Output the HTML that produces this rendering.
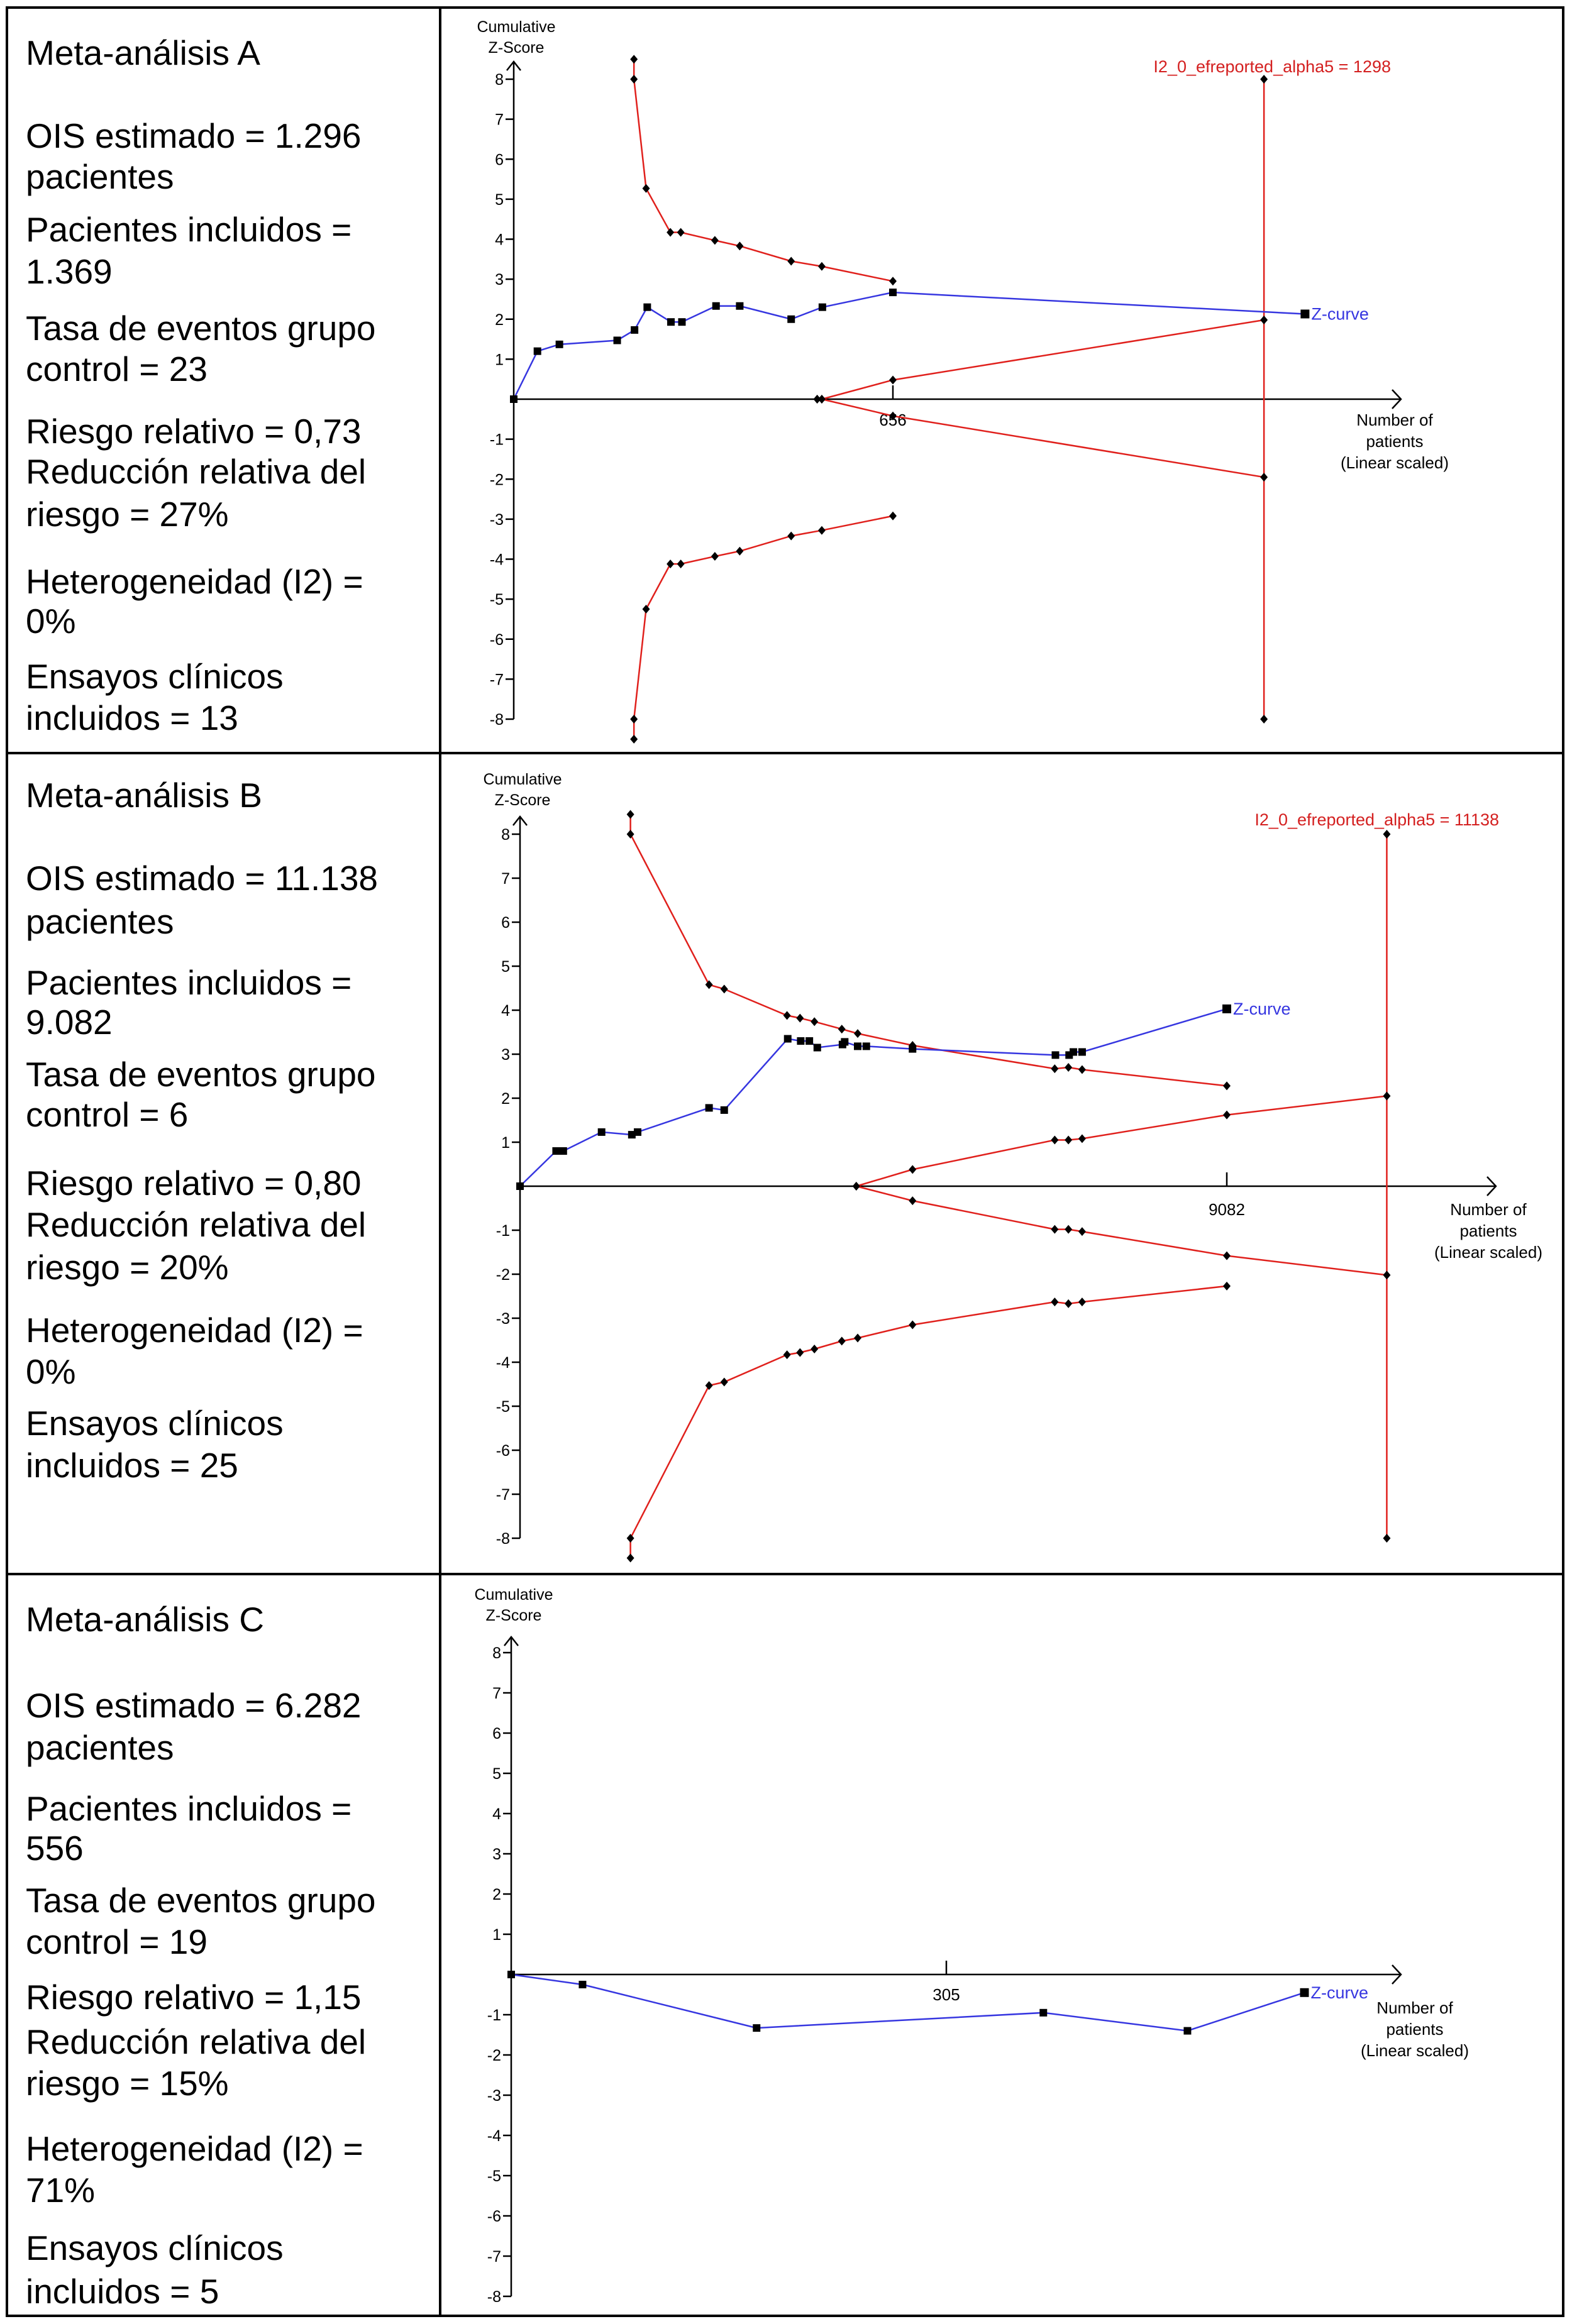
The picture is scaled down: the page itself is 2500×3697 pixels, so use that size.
<!DOCTYPE html>
<html><head><meta charset="utf-8"><style>
html,body{margin:0;padding:0;background:#fff;}
svg{display:block;}
text{font-family:"Liberation Sans",Arial,sans-serif;}
</style></head><body>
<svg id="svg" width="2500" height="3697" viewBox="0 0 2500 3697" xmlns="http://www.w3.org/2000/svg">
<g stroke="#000" stroke-width="4" fill="none">
<rect x="11" y="12" width="2475" height="3672"/>
<line x1="700" y1="12" x2="700" y2="3684"/>
<line x1="11" y1="1198" x2="2486" y2="1198"/>
<line x1="11" y1="2504" x2="2486" y2="2504"/>
</g>
<g font-size="55" fill="#000">
<text x="41" y="103">Meta-análisis A</text>
<text x="41" y="235">OIS estimado = 1.296</text>
<text x="41" y="300">pacientes</text>
<text x="41" y="384">Pacientes incluidos =</text>
<text x="41" y="451">1.369</text>
<text x="41" y="541">Tasa de eventos grupo</text>
<text x="41" y="606">control = 23</text>
<text x="41" y="705">Riesgo relativo = 0,73</text>
<text x="41" y="769">Reducción relativa del</text>
<text x="41" y="837">riesgo = 27%</text>
<text x="41" y="944">Heterogeneidad (I2) =</text>
<text x="41" y="1007">0%</text>
<text x="41" y="1095">Ensayos clínicos</text>
<text x="41" y="1161">incluidos = 13</text>
</g>
<g font-size="55" fill="#000">
<text x="41" y="1284">Meta-análisis B</text>
<text x="41" y="1416">OIS estimado = 11.138</text>
<text x="41" y="1485">pacientes</text>
<text x="41" y="1582">Pacientes incluidos =</text>
<text x="41" y="1645">9.082</text>
<text x="41" y="1728">Tasa de eventos grupo</text>
<text x="41" y="1792">control = 6</text>
<text x="41" y="1901">Riesgo relativo = 0,80</text>
<text x="41" y="1967">Reducción relativa del</text>
<text x="41" y="2035">riesgo = 20%</text>
<text x="41" y="2135">Heterogeneidad (I2) =</text>
<text x="41" y="2201">0%</text>
<text x="41" y="2283">Ensayos clínicos</text>
<text x="41" y="2350">incluidos = 25</text>
</g>
<g font-size="55" fill="#000">
<text x="41" y="2595">Meta-análisis C</text>
<text x="41" y="2732">OIS estimado = 6.282</text>
<text x="41" y="2799">pacientes</text>
<text x="41" y="2896">Pacientes incluidos =</text>
<text x="41" y="2959">556</text>
<text x="41" y="3042">Tasa de eventos grupo</text>
<text x="41" y="3108">control = 19</text>
<text x="41" y="3196">Riesgo relativo = 1,15</text>
<text x="41" y="3267">Reducción relativa del</text>
<text x="41" y="3333">riesgo = 15%</text>
<text x="41" y="3437">Heterogeneidad (I2) =</text>
<text x="41" y="3503">71%</text>
<text x="41" y="3595">Ensayos clínicos</text>
<text x="41" y="3664">incluidos = 5</text>
</g>
</svg>
<script>
// ---- Chart A data ----
const aZN = [0, 41, 79, 179, 209, 231, 272, 291, 350, 391, 480, 534, 656, 1369];
const aZV = [0, 1.2, 1.37, 1.47, 1.73, 2.3, 1.93, 1.93, 2.33, 2.33, 2.0, 2.3, 2.67, 2.13];
const aBN = [208, 208, 229, 271, 289, 348, 391, 480, 533, 656];
const aUpper = [8.5, 8, 5.27, 4.17, 4.17, 3.97, 3.83, 3.45, 3.32, 2.95];
const aLower = [-8.5, -8, -5.25, -4.12, -4.12, -3.93, -3.8, -3.42, -3.28, -2.92];
const aFN = [525, 533, 656, 1298];
const aFutUp = [0, 0, 0.48, 1.98];
const aFutLo = [0, 0, -0.42, -1.95];
const aRIS = 1298;
const aTick = 656;
// ---- Chart B data ----
const bZN = [0, 464, 556, 1048, 1437, 1511, 2429, 2624, 3440, 3607, 3718, 3820, 4144, 4172, 4339, 4450, 5044, 6880, 7056, 7111, 7223, 9082];
const bZV = [0, 0.8, 0.8, 1.23, 1.17, 1.23, 1.78, 1.73, 3.35, 3.3, 3.3, 3.15, 3.22, 3.28, 3.18, 3.18, 3.12, 2.98, 2.98, 3.05, 3.05, 4.03];
const bBN = [1419, 1419, 2429, 2624, 3431, 3598, 3783, 4135, 4339, 5044, 6871, 7047, 7223, 9082];
const bUpper = [8.45, 8, 4.58, 4.48, 3.88, 3.82, 3.74, 3.57, 3.47, 3.2, 2.67, 2.7, 2.65, 2.28];
const bLower = [-8.45, -8, -4.53, -4.45, -3.83, -3.78, -3.7, -3.52, -3.45, -3.15, -2.63, -2.67, -2.63, -2.27];
const bFN = [4321, 5044, 6871, 7047, 7223, 9082, 11138];
const bFutUp = [0, 0.38, 1.05, 1.05, 1.08, 1.62, 2.05];
const bFutLo = [0, -0.33, -0.98, -0.98, -1.03, -1.58, -2.02];
const bRIS = 11138;
const bTick = 9082;
// ---- Chart C data ----
const cZN = [0, 50, 172, 373, 474, 556];
const cZV = [0, -0.25, -1.33, -0.95, -1.4, -0.45];
const cTick = 305;
const yTicks = [8, 7, 6, 5, 4, 3, 2, 1, -1, -2, -3, -4, -5, -6, -7, -8];

const NS = 'http://www.w3.org/2000/svg';
const svg = document.getElementById('svg');
function mk(tag, attrs, parent) {
  const e = document.createElementNS(NS, tag);
  for (const k in attrs) e.setAttribute(k, attrs[k]);
  parent.appendChild(e);
  return e;
}
const RED = '#e0201c', BLUE = '#3636e0';

function drawChart(id, cfg) {
  const g = mk('g', {}, svg);
  
  
  const X = n => cfg.x0 + n * cfg.kx;
  const Y = v => cfg.y0 - v * cfg.ky;
  const ax = mk('g', {stroke: '#000', 'stroke-width': 2.5, fill: 'none'}, g);
  
  
  mk('line', {x1: cfg.x0, y1: cfg.yTop, x2: cfg.x0, y2: Y(-8)}, ax);
  mk('polyline', {points: `${cfg.x0-11},${cfg.yTop+14} ${cfg.x0},${cfg.yTop} ${cfg.x0+11},${cfg.yTop+14}`}, ax);
  mk('line', {x1: cfg.x0, y1: cfg.y0, x2: cfg.xEnd, y2: cfg.y0}, ax);
  mk('polyline', {points: `${cfg.xEnd-14},${cfg.y0-15} ${cfg.xEnd},${cfg.y0} ${cfg.xEnd-14},${cfg.y0+15}`}, ax);
  yTicks.forEach(t => {
    mk('line', {x1: cfg.x0 - 13, y1: Y(t), x2: cfg.x0, y2: Y(t)}, ax);
    const tx = mk('text', {x: cfg.x0 - 16, y: Y(t) + 9, 'text-anchor': 'end', 'font-size': 25, fill: '#000', stroke: 'none'}, g);
    tx.textContent = t;
    
    
  });
  mk('line', {x1: X(cfg.tick), y1: cfg.y0 - 22, x2: X(cfg.tick), y2: cfg.y0}, ax);
  const tl = mk('text', {x: X(cfg.tick), y: cfg.tickY, 'text-anchor': 'middle', 'font-size': 26}, g);
  tl.textContent = cfg.tick;
  
  
  const yt = mk('text', {x: cfg.x0 + 4, y: cfg.cumY, 'text-anchor': 'middle', 'font-size': 25}, g);
  yt.innerHTML = `<tspan x="${cfg.x0+4}">Cumulative</tspan><tspan x="${cfg.x0+4}" dy="33">Z-Score</tspan>`;
  
  
  const xt = mk('text', {x: cfg.xlX, y: cfg.xlY, 'text-anchor': 'middle', 'font-size': 26}, g);
  xt.innerHTML = `<tspan x="${cfg.xlX}">Number of</tspan><tspan x="${cfg.xlX}" dy="34">patients</tspan><tspan x="${cfg.xlX}" dy="34">(Linear scaled)</tspan>`;
  
  

  function line(ns, vs, color, name) {
    const p = mk('polyline', {points: ns.map((n, i) => X(n) + ',' + Y(vs[i])).join(' '), fill: 'none', stroke: color, 'stroke-width': 2.5}, g);
    
    
  }
  function diamonds(ns, vs, name) {
    ns.forEach((n, i) => {
      const x = X(n), y = Y(vs[i]);
      const d = mk('polygon', {points: `${x},${y-7} ${x+6},${y} ${x},${y+7} ${x-6},${y}`, fill: '#000'}, g);
      
      
    });
  }
  function squares(ns, vs, name) {
    ns.forEach((n, i) => {
      const s = i === ns.length - 1 ? 14 : 12;
      const r = mk('rect', {x: X(n) - s/2, y: Y(vs[i]) - s/2, width: s, height: s, fill: '#000'}, g);
      
      
    });
  }
  if (cfg.bn) {
    line(cfg.bn, cfg.up, RED, 'upper-boundary-line');
    line(cfg.bn, cfg.lo, RED, 'lower-boundary-line');
    line(cfg.fn, cfg.fu, RED, 'upper-futility-line');
    line(cfg.fn, cfg.fl, RED, 'lower-futility-line');
    line([cfg.ris, cfg.ris], [8, -8], RED, 'ris-line');
    const rl = mk('text', {x: cfg.risLabelX, y: cfg.risLabelY, 'text-anchor': 'end', 'font-size': 27, fill: '#d42020'}, g);
    rl.textContent = 'I2_0_efreported_alpha5 = ' + cfg.ris;
    
    
  }
  line(cfg.zn, cfg.zv, BLUE, 'z-curve-line');
  if (cfg.bn) {
    diamonds(cfg.bn, cfg.up, 'upper-boundary-point');
    diamonds(cfg.bn, cfg.lo, 'lower-boundary-point');
    diamonds(cfg.fn, cfg.fu, 'upper-futility-point');
    diamonds(cfg.fn, cfg.fl, 'lower-futility-point');
    diamonds([cfg.ris, cfg.ris], [8, -8], 'ris-end-point');
  }
  squares(cfg.zn, cfg.zv, 'z-curve-point');
  const last = cfg.zn.length - 1;
  const zl = mk('text', {x: X(cfg.zn[last]) + 10, y: Y(cfg.zv[last]) + 9, 'font-size': 27, fill: BLUE}, g);
  zl.textContent = 'Z-curve';
  
  
}

drawChart('a', {x0: 817, kx: (1420 - 817) / 656, y0: 635, ky: (635 - 126) / 8, yTop: 98, xEnd: 2228,
  tick: aTick, tickY: 677, cumY: 51, xlX: 2218, xlY: 677, risLabelX: 2212, risLabelY: 115,
  zn: aZN, zv: aZV, bn: aBN, up: aUpper, lo: aLower, fn: aFN, fu: aFutUp, fl: aFutLo, ris: aRIS});
drawChart('b', {x0: 827, kx: (1951 - 827) / 9082, y0: 1887, ky: (1887 - 1327) / 8, yTop: 1299, xEnd: 2379,
  tick: bTick, tickY: 1933, cumY: 1248, xlX: 2367, xlY: 1933, risLabelX: 2384, risLabelY: 1313,
  zn: bZN, zv: bZV, bn: bBN, up: bUpper, lo: bLower, fn: bFN, fu: bFutUp, fl: bFutLo, ris: bRIS});
drawChart('c', {x0: 813, kx: (1505 - 813) / 305, y0: 3141, ky: (3141 - 2629) / 8, yTop: 2604, xEnd: 2228,
  tick: cTick, tickY: 3182, cumY: 2545, xlX: 2250, xlY: 3203,
  zn: cZN, zv: cZV});
</script>
</body></html>
